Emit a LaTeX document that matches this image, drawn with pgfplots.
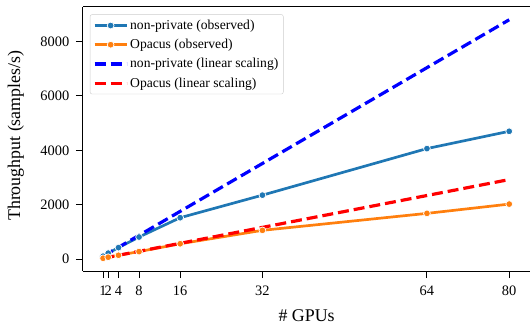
\documentclass[border=0pt]{standalone}
\usepackage{fontspec}
\setmainfont{Liberation Serif}
\usepackage{pgfplots}
\pgfplotsset{compat=1.18}
\definecolor{tabblue}{HTML}{1F77B4}
\definecolor{taborange}{HTML}{FF7F0E}
\begin{document}
\begin{tikzpicture}
\begin{axis}[
  scale only axis,
  width=448bp, height=265bp,
  xmin=-2.95, xmax=83.95,
  ymin=-440, ymax=9270,
  axis x line=box, axis y line=left,
  axis line style={-, line width=1bp, black},
  xtick={1,2,4,8,16,32,64,80},
  ytick={0,2000,4000,6000,8000},
  xtick pos=bottom, ytick pos=left,
  tick align=outside,
  major tick length=7bp,
  tick style={line width=1bp, black},
  /pgf/number format/assume math mode=true,
  /pgf/number format/1000 sep={},
  ticklabel style={font=\fontsize{14.5}{16}\selectfont},
  xticklabel style={yshift=-4bp},
  yticklabel style={xshift=-3bp},
  xlabel={\# GPUs},
  ylabel={Throughput (samples/s)},
  label style={font=\fontsize{18}{20}\selectfont},
  xlabel style={at={(axis description cs:0.501,-0.19)}, anchor=base},
  ylabel style={at={(axis description cs:-0.15,0.513)}, anchor=center},
  legend cell align=left,
  legend style={at={(axis description cs:0.016,0.972)}, anchor=north west,
    draw=black!20, rounded corners=2bp, fill=white,
    font=\fontsize{13.7}{15}\selectfont,
    inner xsep=3bp, inner ysep=3.5bp, row sep=4.3bp,
    /tikz/every even column/.append style={column sep=4bp}},
  legend image code/.code={\draw[#1, mark repeat=2, mark phase=2] plot coordinates {(0bp,0bp) (16bp,0bp) (32bp,0bp)};},
]
\addplot[tabblue, line width=2.7bp, mark=*, mark size=3.4bp, mark options={solid, fill=tabblue, draw=white, line width=0.7bp}]
 coordinates {(1,112) (2,225) (4,428) (8,817) (16,1527) (32,2356) (64,4067) (80,4702)};
\addlegendentry{non-private (observed)}
\addplot[taborange, line width=2.7bp, mark=*, mark size=3.4bp, mark options={solid, fill=taborange, draw=white, line width=0.7bp}]
 coordinates {(1,37) (2,75) (4,146) (8,282) (16,570) (32,1063) (64,1686) (80,2027)};
\addlegendentry{Opacus (observed)}
\addplot[blue, line width=3.2bp, dash pattern=on 11bp off 5bp, mark=none]
 coordinates {(1,110) (2,220) (4,440) (8,880) (16,1760) (32,3520) (64,7040) (80,8800)};
\addlegendentry{non-private (linear scaling)}
\addplot[red, line width=3.2bp, dash pattern=on 11bp off 5bp, mark=none]
 coordinates {(1,36.6) (2,73.2) (4,146.4) (8,292.8) (16,585.6) (32,1171.2) (64,2342.4) (80,2928)};
\addlegendentry{Opacus (linear scaling)}
\end{axis}
\path (current axis.south west) ++(-83bp,-50bp);
\path (current axis.north west) ++(0,7bp);
\end{tikzpicture}
\end{document}
